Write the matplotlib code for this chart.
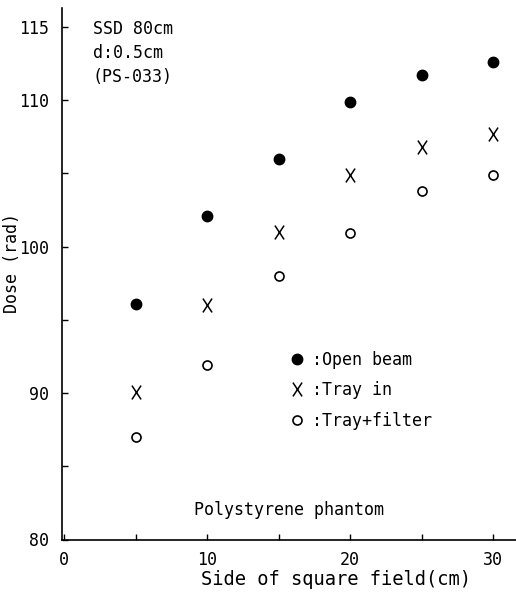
import matplotlib
matplotlib.use("Agg")
import matplotlib.pyplot as plt
from matplotlib.path import Path

# field size (cm) and dose readings (rad)
field_size = [5, 10, 15, 20, 25, 30]
dose_open = [96.1, 102.1, 106.0, 109.9, 111.7, 112.6]
dose_tray = [90.1, 96.0, 101.0, 104.9, 106.8, 107.7]
dose_filter = [87.0, 91.9, 98.0, 100.9, 103.8, 104.9]

yticks = [80, 85, 90, 95, 100, 105, 110, 115]
yticklabels = ["80", "", "90", "", "100", "", "110", "115"]
xticks = [0, 5, 10, 15, 20, 25, 30]
xticklabels = ["0", "", "10", "", "20", "", "30"]

plt.rcParams['font.family'] = ['DejaVu Sans Mono']

# thin, slightly tall "X" like a typed letter
x_marker = Path([(-0.33, -0.5), (0.33, 0.5), (-0.33, 0.5), (0.33, -0.5)],
                [Path.MOVETO, Path.LINETO, Path.MOVETO, Path.LINETO])

fig = plt.figure(figsize=(5.16, 5.92), dpi=100)
ax = fig.add_axes([62/516, 52.5/592, 454/516, 531.5/592])

ax.plot(field_size, dose_open, linestyle='none', marker='o', ms=7.5,
        color='black', label=':Open beam')
ax.plot(field_size, dose_tray, linestyle='none', marker=x_marker, ms=10,
        mfc='none', mec='black', mew=1.1, label=':Tray in')
ax.plot(field_size, dose_filter, linestyle='none', marker='o', ms=6.5,
        mfc='white', mec='black', mew=1.2, label=':Tray+filter')

ax.set_xlim(-0.14, 31.6)
ax.set_ylim(80, 116.3)

ax.spines['top'].set_visible(False)
ax.spines['right'].set_visible(False)
for s in ('left', 'bottom'):
    ax.spines[s].set_linewidth(1.2)

ax.set_yticks(yticks)
ax.set_yticklabels(yticklabels)
ax.set_xticks(xticks)
ax.set_xticklabels(xticklabels)
ax.tick_params(direction='in', length=4, width=1, labelsize=12)
ax.tick_params(axis='y', pad=9)
ax.tick_params(axis='x', pad=8)

ax.set_xlabel('Side of square field(cm)', fontsize=13.5)
ax.xaxis.set_label_coords(0.604, -0.057)
ax.set_ylabel('Dose (rad)', fontsize=12)
ax.yaxis.set_label_coords(-0.09, 0.52)

ax.text(2.0, 115.5, 'SSD 80cm\nd:0.5cm\n(PS-033)', fontsize=12,
        va='top', ha='left', linespacing=1.45)
ax.text(15.7, 82.0, 'Polystyrene phantom', fontsize=12,
        va='center', ha='center')

ax.legend(loc='upper left', bbox_to_anchor=(0.502, 0.355), frameon=False,
          fontsize=12, borderpad=0, borderaxespad=0, handlelength=0.8,
          handletextpad=0.5, labelspacing=0.75)

fig.savefig('out.png', dpi=100)
